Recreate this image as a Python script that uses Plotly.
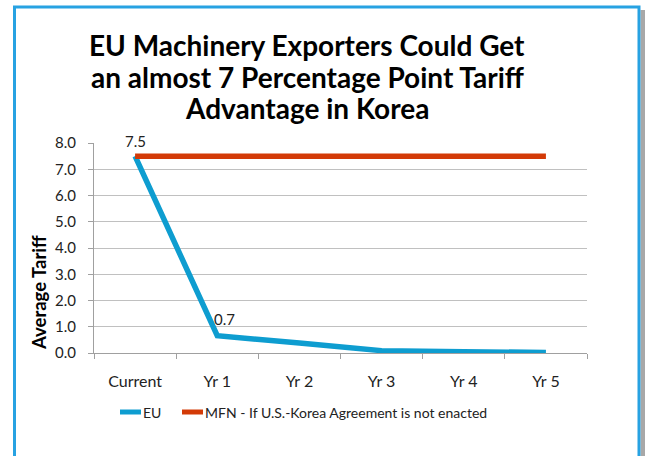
import plotly.graph_objects as go

categories = ["Current", "Yr 1", "Yr 2", "Yr 3", "Yr 4", "Yr 5"]
eu_values = [7.5, 0.66, 0.38, 0.09, 0.05, 0.02]
mfn_values = [7.5, 7.5, 7.5, 7.5, 7.5, 7.5]
y_ticks = [0, 1, 2, 3, 4, 5, 6, 7, 8]
series_names = ["EU", "MFN - If U.S.-Korea Agreement is not enacted"]
title_lines = ["EU Machinery Exporters Could Get",
               "an almost 7 Percentage Point Tariff",
               "Advantage in Korea"]

W, H = 645, 456
L, R, T, B = 94, 58, 143, 103
PW, PH = W - L - R, H - T - B

def px_x(p):
    return (p - L) / PW

def px_y(p):
    return (H - B - p) / PH

FONT = "Lato"
EU_COLOR = "#0e9dd0"
MFN_COLOR = "#d33a07"
colors = [EU_COLOR, MFN_COLOR]

fig = go.Figure()
fig.add_trace(go.Scatter(x=categories, y=eu_values, mode="lines", name=series_names[0],
                         line=dict(color=EU_COLOR, width=5.5), showlegend=False))
fig.add_trace(go.Scatter(x=categories, y=mfn_values, mode="lines", name=series_names[1],
                         line=dict(color=MFN_COLOR, width=5.5), showlegend=False))

annotations = []
# data labels
annotations.append(dict(x=categories[0], y=eu_values[0], xref="x", yref="y",
                        text=f"{eu_values[0]:.1f}", showarrow=False, yshift=15,
                        font=dict(family=FONT, size=15, color="#222")))
annotations.append(dict(x=categories[1], y=eu_values[1], xref="x", yref="y",
                        text=f"{eu_values[1]:.1f}", showarrow=False, yshift=17, xshift=7,
                        font=dict(family=FONT, size=15, color="#222")))
# title lines
for i, line in enumerate(title_lines):
    annotations.append(dict(x=px_x(307), y=px_y(45 + i * 31.5), xref="paper", yref="paper",
                            text="<b>" + line + "</b>", showarrow=False,
                            xanchor="center", yanchor="middle",
                            font=dict(family=FONT, size=28, color="#000")))
# y-axis title
annotations.append(dict(x=px_x(39), y=px_y(293), xref="paper", yref="paper",
                        text="<b>Average Tariff</b>", showarrow=False, textangle=-90,
                        xanchor="center", yanchor="middle",
                        font=dict(family=FONT, size=18.5, color="#000")))

shapes = [
    dict(type="rect", xref="paper", yref="paper",
         x0=px_x(640.5), x1=px_x(646), y0=px_y(470), y1=px_y(10),
         fillcolor="#a8a8a8", line=dict(width=0), layer="below"),
    dict(type="rect", xref="paper", yref="paper",
         x0=px_x(14.5), x1=px_x(639), y0=px_y(470), y1=px_y(7),
         line=dict(color="#27a2e2", width=3), fillcolor="rgba(0,0,0,0)"),
]

# custom legend
legend_items = [(120, 141, 141), (182, 203, 203)]
for (sx0, sx1, tx), name, col in zip(legend_items, series_names, colors):
    shapes.append(dict(type="line", xref="paper", yref="paper",
                       x0=px_x(sx0), x1=px_x(sx1), y0=px_y(412), y1=px_y(412),
                       line=dict(color=col, width=5)))
    annotations.append(dict(x=px_x(tx), y=px_y(412), xref="paper", yref="paper",
                            text=name, showarrow=False, xanchor="left", yanchor="middle",
                            font=dict(family=FONT, size=14, color="#222")))

fig.update_layout(
    width=W, height=H,
    margin=dict(l=L, r=R, t=T, b=B, pad=0),
    paper_bgcolor="white", plot_bgcolor="white",
    annotations=annotations, shapes=shapes,
    showlegend=False,
    xaxis=dict(type="category", range=[-0.5, 5.5], showgrid=False,
               showline=True, linecolor="#a0a0a0", linewidth=1,
               ticks="outside", tickson="boundaries", ticklen=5, tickcolor="#a0a0a0",
               ticklabelstandoff=14,
               tickfont=dict(family=FONT, size=16, color="#222"), fixedrange=True,
               automargin=False),
    yaxis=dict(range=[0, 8], tickvals=y_ticks, tickformat=".1f",
               showgrid=True, gridcolor="#c0c0c0", gridwidth=1,
               showline=True, linecolor="#a0a0a0", linewidth=1,
               ticks="outside", ticklen=5, tickcolor="#a0a0a0",
               ticklabelstandoff=9,
               zeroline=False,
               tickfont=dict(family=FONT, size=15, color="#222"), fixedrange=True,
               automargin=False),
)

fig.write_html("out.html", config={"displayModeBar": False},
               post_script="document.body.style.margin='0';document.body.style.padding='0';")
